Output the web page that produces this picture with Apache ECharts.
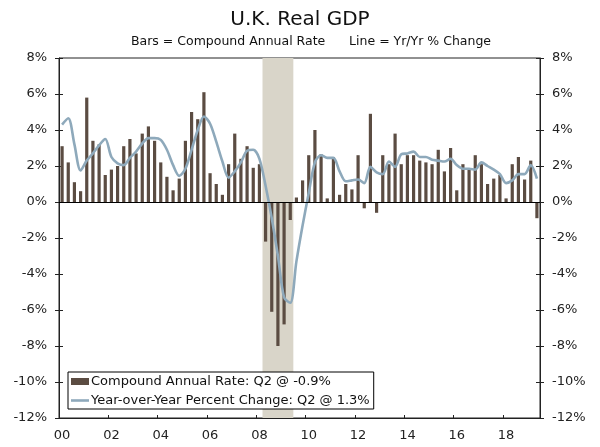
<!DOCTYPE html>
<html>
<head>
<meta charset="utf-8">
<script src="https://cdn.jsdelivr.net/npm/echarts@6/dist/echarts.min.js"></script>
<style>
html,body{margin:0;padding:0;background:#fff;}
#chart{width:600px;height:447px;}
</style>
</head>
<body>
<div id="chart"></div>
<script>
// ---- data ----
var years = ['00','01','02','03','04','05','06','07','08','09','10','11','12','13','14','15','16','17','18','19'];
var quarters = ['Q1','Q2','Q3','Q4'];
var tickLabels = ['00','02','04','06','08','10','12','14','16','18'];

// Compound annual rate (bars), 2000Q1 - 2019Q2
var caRate = [
  3.1, 2.2, 1.1, 0.6,
  5.8, 3.4, 3.2, 1.5,
  1.8, 2.0, 3.1, 3.5,
  2.7, 3.8, 4.2, 3.4,
  2.2, 1.4, 0.65, 1.3,
  3.4, 5.0, 4.6, 6.1,
  1.6, 1.0, 0.4, 2.1,
  3.8, 2.4, 3.1, 1.9,
  2.1, -2.2, -6.1, -8.0,
  -6.8, -1.0, 0.25, 1.2,
  2.6, 4.0, 2.65, 0.2,
  2.5, 0.4, 1.0, 0.7,
  2.6, -0.35, 4.9, -0.6,
  2.6, 2.1, 3.8, 2.1,
  2.6, 2.6, 2.3, 2.2,
  2.1, 2.9, 1.7, 3.0,
  0.65, 2.1, 1.8, 2.6,
  2.1, 1.0, 1.3, 1.5,
  0.2, 2.1, 2.5, 1.25,
  2.3, -0.9
];

// Year-over-year percent change (line)
var yoy = [
  4.3, 4.65, 3.2, 1.75,
  2.3, 2.7, 3.15, 3.5,
  2.5, 2.15, 2.05, 2.45,
  2.8, 3.25, 3.55, 3.55,
  3.45, 2.9, 2.05, 1.45,
  1.85, 2.9, 4.0, 4.75,
  4.35, 3.35, 2.25, 1.35,
  1.7, 2.2, 2.85, 2.9,
  2.4, 0.9, -0.9, -3.0,
  -5.3, -5.6, -3.3, -1.3,
  0.5, 2.2, 2.6, 2.45,
  2.45, 1.7, 1.15, 1.2,
  1.25, 1.05, 1.95, 1.65,
  1.55, 2.25, 1.95, 2.65,
  2.7, 2.8, 2.5, 2.5,
  2.35, 2.3, 2.25, 2.4,
  2.05, 1.85, 1.85, 1.8,
  2.2, 2.0, 1.8, 1.55,
  1.05, 1.2, 1.55, 1.55,
  2.05, 1.3
];

var recessionStart = '08Q2';
var recessionEnd = '09Q2';

var barName = 'Compound Annual Rate: Q2 @ -0.9%';
var lineName = 'Year-over-Year Percent Change: Q2 @ 1.3%';
var titleText = 'U.K. Real GDP';
var subtitleText = 'Bars = Compound Annual Rate      Line = Yr/Yr % Change';

// ---- build ----
var categories = [];
years.forEach(function (y) { quarters.forEach(function (q) { categories.push(y + q); }); });
categories = categories.slice(0, caRate.length);
var recStartIdx = categories.indexOf(recessionStart);
var recEndIdx = categories.indexOf(recessionEnd) + 1;

var FONT = 'DejaVu Sans';
var AXIS_COLOR = '#222';
var BAR_COLOR = '#5b4c42';
var LINE_COLOR = '#8ea9bb';

var chart = echarts.init(document.getElementById('chart'), null, {renderer: 'canvas'});

var yCommon = {
  type: 'value', min: -12, max: 8, interval: 2,
  splitLine: {show: false}
};

var option = {
  animation: false,
  backgroundColor: '#fff',
  textStyle: {fontFamily: FONT},
  grid: {
    left: 59, right: 60, top: 58, bottom: 29,
    show: true, borderColor: AXIS_COLOR, borderWidth: 1, backgroundColor: 'transparent'
  },
  graphic: [
    {type: 'text', left: 'center', top: 10, z: 10,
     style: {text: titleText, font: 'normal 20px "' + FONT + '"', fill: '#111'}},
    {type: 'text', x: 311, y: 42, z: 10,
     style: {text: subtitleText, font: 'normal 12.5px "' + FONT + '"', fill: '#111', align: 'center', verticalAlign: 'middle'}}
  ],
  legend: {
    orient: 'vertical', left: 68, top: 372,
    padding: [3, 4, 2, 3], itemGap: 6, itemWidth: 18, itemHeight: 7,
    borderColor: '#000', borderWidth: 1, borderRadius: 0, backgroundColor: '#fff',
    textStyle: {fontFamily: FONT, fontSize: 13, color: '#111', padding: [0, 0, 0, -3]},
    data: [
      {name: barName, icon: 'rect', itemStyle: {color: BAR_COLOR}},
      {name: lineName, icon: 'path://M0,0 H18 V2.6 H0 Z', itemStyle: {color: LINE_COLOR}}
    ],
    selectedMode: false
  },
  xAxis: [
    {
      type: 'category', data: categories, position: 'bottom', boundaryGap: true,
      axisLine: {onZero: false, lineStyle: {color: AXIS_COLOR, width: 1}},
      axisTick: {interval: 7, length: 5, lineStyle: {color: AXIS_COLOR}},
      axisLabel: {
        interval: 7, margin: 11, fontSize: 13, fontFamily: FONT, color: '#222',
        formatter: function (v, idx) { return tickLabels[Math.round(idx / 8)]; }
      },
      splitLine: {show: false}
    },
    {
      type: 'value', min: 0, max: categories.length, interval: 8, position: 'bottom',
      axisLine: {show: false, onZero: false},
      axisTick: {show: true, inside: true, length: 3, lineStyle: {color: AXIS_COLOR}},
      axisLabel: {show: false},
      splitLine: {show: false}
    }
  ],
  yAxis: [
    Object.assign({}, yCommon, {
      position: 'left',
      axisLine: {show: true, onZero: false, lineStyle: {color: AXIS_COLOR}},
      axisTick: {show: true, length: 4, lineStyle: {color: AXIS_COLOR}},
      axisLabel: {formatter: '{value}%', margin: 12, fontSize: 13, fontFamily: FONT, color: '#222'}
    }),
    Object.assign({}, yCommon, {
      position: 'right',
      axisLine: {show: true, onZero: false, lineStyle: {color: AXIS_COLOR}},
      axisTick: {show: true, length: 4, lineStyle: {color: AXIS_COLOR}},
      axisLabel: {formatter: '{value}%', margin: 12, fontSize: 13, fontFamily: FONT, color: '#222'}
    }),
    Object.assign({}, yCommon, {
      position: 'left',
      axisLine: {show: false, onZero: false},
      axisTick: {show: true, inside: true, length: 4, lineStyle: {color: AXIS_COLOR}},
      axisLabel: {show: false}
    }),
    Object.assign({}, yCommon, {
      position: 'right',
      axisLine: {show: false, onZero: false},
      axisTick: {show: true, inside: true, length: 4, lineStyle: {color: AXIS_COLOR}},
      axisLabel: {show: false}
    })
  ],
  series: [
    {
      name: 'recession', type: 'line', xAxisIndex: 1, yAxisIndex: 0, z: 0,
      data: [[recStartIdx, 0]], showSymbol: false, symbol: 'none',
      lineStyle: {opacity: 0}, silent: true, legendHoverLink: false,
      markArea: {
        silent: true,
        itemStyle: {color: '#d9d5c9'},
        data: [[{xAxis: recStartIdx}, {xAxis: recEndIdx}]]
      }
    },
    {
      name: barName, type: 'bar', xAxisIndex: 0, yAxisIndex: 0, z: 2,
      data: caRate, barWidth: '52%',
      itemStyle: {color: BAR_COLOR},
      markLine: {
        silent: true, symbol: ['none', 'none'],
        label: {show: false},
        lineStyle: {color: '#000', width: 1, type: 'solid'},
        data: [{yAxis: 0}]
      }
    },
    {
      name: lineName, type: 'line', xAxisIndex: 0, yAxisIndex: 0, z: 3,
      data: yoy, smooth: 0.3, symbol: 'none', showSymbol: false,
      lineStyle: {color: LINE_COLOR, width: 2.6},
      itemStyle: {color: LINE_COLOR}
    }
  ]
};
chart.setOption(option);
</script>
</body>
</html>
